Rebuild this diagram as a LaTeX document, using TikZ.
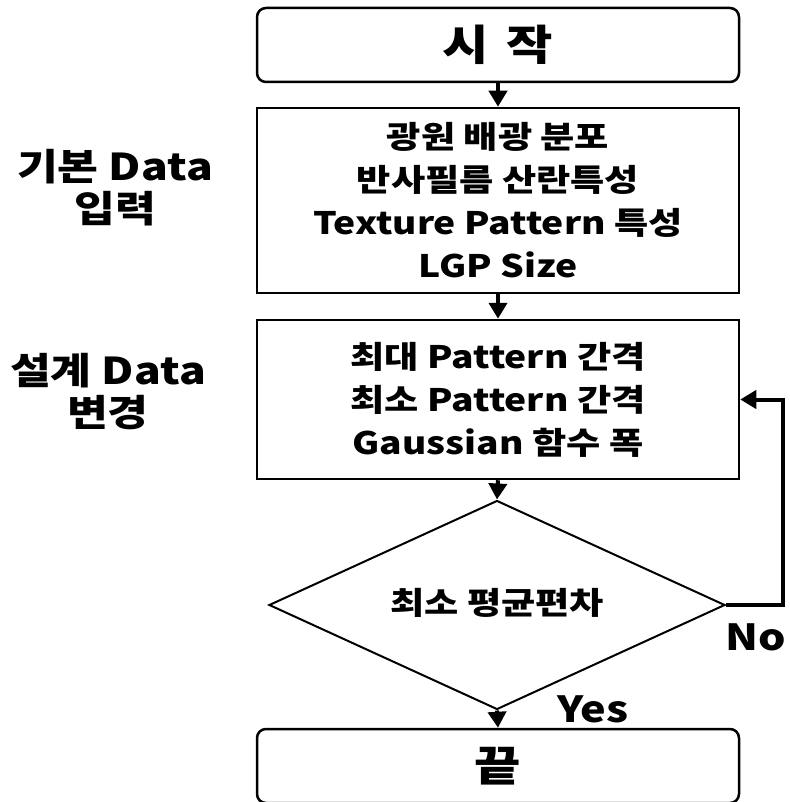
\documentclass[tikz,border=0pt]{standalone}
\usepackage{fontspec}
\setmainfont{Noto Sans CJK KR}[FakeStretch=1.2]
\usetikzlibrary{shapes.geometric,arrows.meta}
\tikzset{
  every node/.style={font=\bfseries},
  termbox/.style={draw, line width=2.5pt, rounded corners=9pt, minimum width=482pt, minimum height=74pt, inner sep=0pt,
    font=\bfseries\fontsize{42}{42}\selectfont},
  procbox/.style={draw, line width=2.5pt, minimum width=482pt, inner sep=0pt, align=center},
  decision/.style={draw, line width=2pt, diamond, minimum width=456pt, minimum height=209pt, inner sep=0pt},
  flow/.style={line width=4pt, -{Triangle[length=16pt,width=18pt]}},
  sidelabel/.style={align=center, font=\bfseries\fontsize{37}{42}\selectfont},
  boxtext/.style={font=\bfseries\fontsize{31}{43}\selectfont},
  branch/.style={font=\bfseries\fontsize{36}{36}\selectfont}
}
\begin{document}
\begin{tikzpicture}[x=1pt,y=-1pt]
  \useasboundingbox (0,0) rectangle (789,802);
  % terminals
  \node[termbox] (start) at (498,45) {시\hspace{6pt} 작};
  \node[termbox] (stop) at (498,766) {끝};
  % process boxes
  \node[procbox, minimum height=185pt, boxtext] (input) at (498,200.5)
    {광원 배광 분포\\반사필름 산란특성\\Texture Pattern 특성\\LGP Size};
  \node[procbox, minimum height=159pt, boxtext] (design) at (498,399.5)
    {최대 Pattern 간격\\최소 Pattern 간격\\Gaussian 함수 폭};
  % decision
  \node[decision] (check) at (497,605) {};
  \node[boxtext] (checktext) at (497,603) {최소 평균편차};
  % side labels
  \node[sidelabel] (lin) at (115,188) {기본 Data\\입력};
  \node[sidelabel] (ldes) at (108,392) {설계 Data\\변경};
  % connectors
  \draw[flow] (start.south) -- (input.north);
  \draw[flow] (input.south) -- (design.north);
  \draw[flow] (design.south) -- (check.north);
  \draw[flow] (check.south) -- (stop.north);
  \coordinate (loopc) at (783,399.5);
  \draw[flow] (check.east) -| (loopc) -- (design.east);
  % branch labels
  \node[branch] (yes) at (593,709) {Yes};
  \node[branch] (no) at (756,637) {No};
\end{tikzpicture}
\end{document}
